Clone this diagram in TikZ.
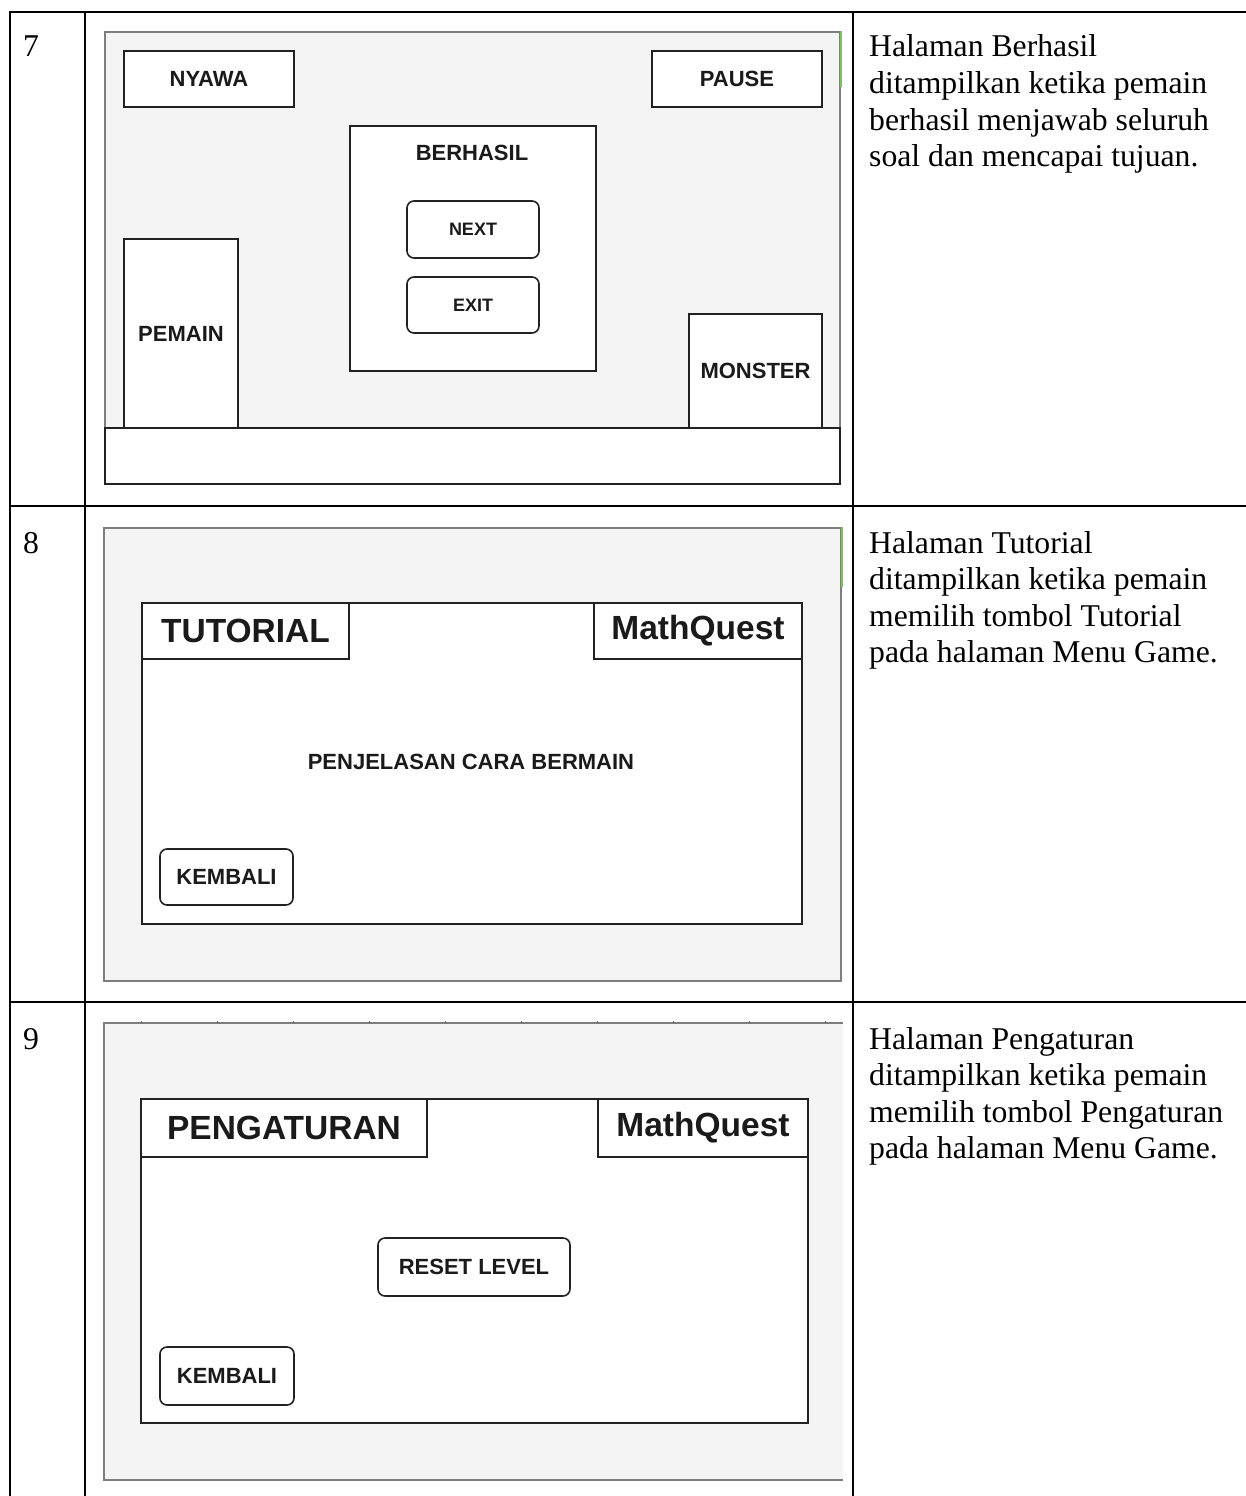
\documentclass[tikz,border=0pt]{standalone}
\usepackage{fontspec}
\setmainfont{Liberation Serif}
\setsansfont{Liberation Sans}
\definecolor{panelgray}{HTML}{F4F4F4}
\definecolor{panelline}{HTML}{7E7E7E}
\definecolor{inkline}{HTML}{222222}
\definecolor{inktext}{HTML}{1A1A1A}
\definecolor{edgegreen}{HTML}{7CC25A}
% rectangle node from its corners: [style]{name}{x1}{y1}{x2}{y2}{text}
\newcommand\rectnode[7][]{%
  \node[#1, anchor=center, inner sep=0pt, minimum width={#5-#3}, minimum height={#6-#4}]
    (#2) at ({(#3+#5)/2},{(#4+#6)/2}) {#7};}
\begin{document}
\begin{tikzpicture}[x=1pt, y=-1pt,
  gridline/.style={draw=black, line width=2.4pt},
  panel/.style={fill=panelgray, draw=panelline, line width=1.5pt},
  panelfill/.style={fill=panelgray},
  wbox/.style={fill=white, draw=inkline, line width=1.6pt},
  btn/.style={wbox, rounded corners=7pt},
  lbl/.style={font=\sffamily\bfseries\fontsize{22}{26}\selectfont, text=inktext},
  small/.style={font=\sffamily\bfseries\fontsize{18}{22}\selectfont, text=inktext},
  big/.style={font=\sffamily\bfseries\fontsize{33.5}{38}\selectfont, text=inktext},
  desc/.style={font=\fontsize{31.7}{36.6}\selectfont, anchor=base west, inner sep=0pt},
]
\useasboundingbox (0,0) rectangle (1246,1496);

% ---------- row 7: success screen ----------
\rectnode[panel]{p7}{105}{32}{840}{484}{}
\draw[edgegreen, line width=1.5pt] (p7.north east) -- ++(0,56);
\rectnode[wbox, lbl]{nyawa}{124}{51}{294}{107}{NYAWA}
\rectnode[wbox, lbl]{pause}{652}{51}{822}{107}{PAUSE}
\rectnode[wbox]{win7}{350}{126}{596}{371}{}
\node[lbl] (berhasil) at (472,153) {BERHASIL};
\rectnode[btn, small]{next}{407}{201}{539}{258}{NEXT}
\rectnode[btn, small]{exit}{407}{277}{539}{333}{EXIT}
\rectnode[wbox, lbl]{pemain}{124}{239}{238}{428}{PEMAIN}
\rectnode[wbox, lbl]{monster}{689}{314}{822}{428}{MONSTER}
\rectnode[wbox]{ground}{105}{428}{840}{484}{}

% ---------- row 8: tutorial screen ----------
\rectnode[panel]{p8}{104}{528}{841}{981}{}
\draw[edgegreen, line width=1.5pt] (p8.north east) -- ++(0,60);
\rectnode[wbox]{win8}{142}{603}{802}{924}{}
\rectnode[wbox, big]{tut}{142}{603}{349}{659}{TUTORIAL}
\rectnode[wbox, big]{mq8}{594}{603}{802}{659}{MathQuest}
\node[lbl] (howto) at (471,762) {PENJELASAN CARA BERMAIN};
\rectnode[btn, lbl]{back8}{160}{849}{293}{905}{KEMBALI}

% ---------- row 9: settings screen ----------
\rectnode[panelfill]{p9}{104}{1023}{843}{1480}{}
\draw[panelline, line width=1.5pt] (p9.north east) -- (p9.north west) -- (p9.south west) -- (p9.south east);
\foreach \i in {0,...,9}
  \draw[inkline!70, line width=1pt] ({141.7+76*\i},1020.5) -- ++(0,2.5);
\rectnode[wbox]{win9}{141}{1099}{808}{1423}{}
\rectnode[wbox, big]{set}{141}{1099}{427}{1157}{PENGATURAN}
\rectnode[wbox, big]{mq9}{598}{1099}{808}{1157}{MathQuest}
\rectnode[btn, lbl]{reset}{378}{1238}{570}{1296}{RESET LEVEL}
\rectnode[btn, lbl]{back9}{160}{1347}{294}{1405}{KEMBALI}

% ---------- table rules ----------
\draw[gridline, line join=miter] (10,1500) -- (10,12) -- (1250,12);
\draw[gridline] (85,12) -- (85,1500);
\draw[gridline] (853,12) -- (853,1500);
\draw[gridline] (10,506) -- (1250,506);
\draw[gridline] (10,1002) -- (1250,1002);

% ---------- numbers ----------
\node[desc] (n7) at (23,57) {7};
\node[desc] (n8) at (23,553) {8};
\node[desc] (n9) at (23,1049) {9};

% ---------- descriptions ----------
\node[desc] (d7a) at (869,57)    {Halaman Berhasil};
\node[desc] (d7b) at (869,93.6)  {ditampilkan ketika pemain};
\node[desc] (d7c) at (869,130.2) {berhasil menjawab seluruh};
\node[desc] (d7d) at (869,166.8) {soal dan mencapai tujuan.};

\node[desc] (d8a) at (869,553)   {Halaman Tutorial};
\node[desc] (d8b) at (869,589.6) {ditampilkan ketika pemain};
\node[desc] (d8c) at (869,626.2) {memilih tombol Tutorial};
\node[desc] (d8d) at (869,662.8) {pada halaman Menu Game.};

\node[desc] (d9a) at (869,1049)   {Halaman Pengaturan};
\node[desc] (d9b) at (869,1085.6) {ditampilkan ketika pemain};
\node[desc] (d9c) at (869,1122.2) {memilih tombol Pengaturan};
\node[desc] (d9d) at (869,1158.8) {pada halaman Menu Game.};
\end{tikzpicture}
\end{document}
